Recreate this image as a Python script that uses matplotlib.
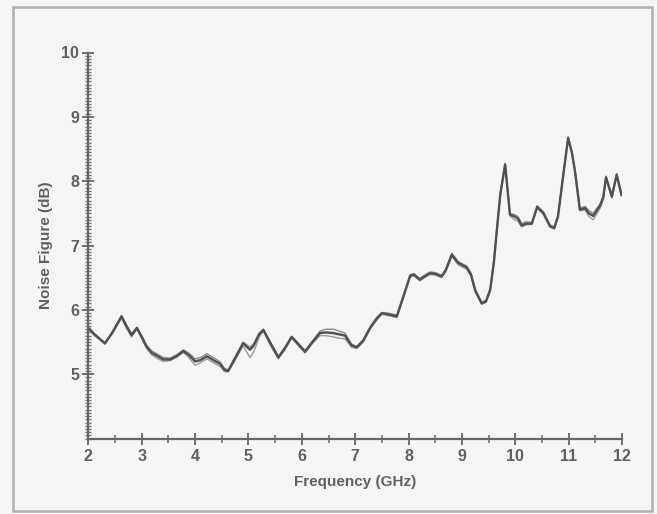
import matplotlib
matplotlib.use("Agg")
import matplotlib.pyplot as plt
from matplotlib.patches import Rectangle
from matplotlib.ticker import MultipleLocator

# main trace
freq = [2.00, 2.10, 2.31, 2.45, 2.62, 2.72, 2.81, 2.91, 3.00, 3.09, 3.19, 3.30,
        3.40, 3.53, 3.65, 3.78, 3.88, 4.00, 4.10, 4.22, 4.34, 4.47, 4.55, 4.62,
        4.75, 4.90, 5.03, 5.10, 5.20, 5.28, 5.40, 5.56, 5.68, 5.81, 5.95, 6.06,
        6.20, 6.34, 6.45, 6.59, 6.70, 6.81, 6.93, 7.03, 7.15, 7.28, 7.40, 7.50,
        7.62, 7.78, 7.90, 8.03, 8.10, 8.21, 8.30, 8.40, 8.50, 8.62, 8.70, 8.81,
        8.93, 9.09, 9.17, 9.25, 9.37, 9.45, 9.53, 9.60, 9.65, 9.72, 9.81, 9.90,
        9.99, 10.05, 10.12, 10.20, 10.31, 10.41, 10.53, 10.65, 10.73, 10.80,
        10.90, 10.99, 11.06, 11.12, 11.21, 11.31, 11.38, 11.46, 11.59, 11.65,
        11.70, 11.81, 11.90, 11.99]
nf = [5.72, 5.63, 5.48, 5.65, 5.90, 5.74, 5.61, 5.72, 5.58, 5.43, 5.33, 5.28,
      5.23, 5.23, 5.28, 5.36, 5.30, 5.20, 5.22, 5.28, 5.22, 5.16, 5.07, 5.05,
      5.25, 5.48, 5.38, 5.45, 5.62, 5.69, 5.50, 5.26, 5.40, 5.58, 5.45, 5.35,
      5.50, 5.64, 5.65, 5.64, 5.62, 5.60, 5.45, 5.42, 5.52, 5.72, 5.86, 5.95,
      5.93, 5.90, 6.20, 6.53, 6.55, 6.47, 6.52, 6.57, 6.56, 6.52, 6.62, 6.86,
      6.73, 6.66, 6.55, 6.30, 6.10, 6.13, 6.31, 6.75, 7.20, 7.80, 8.26, 7.48,
      7.45, 7.42, 7.31, 7.34, 7.34, 7.60, 7.50, 7.30, 7.27, 7.45, 8.10, 8.67,
      8.45, 8.15, 7.56, 7.58, 7.50, 7.46, 7.62, 7.75, 8.06, 7.76, 8.10, 7.79]

# two fainter repeat sweeps, same frequency points
nf_b = [5.70, 5.61, 5.47, 5.63, 5.87, 5.70, 5.58, 5.70, 5.55, 5.40, 5.30, 5.24,
        5.20, 5.21, 5.26, 5.34, 5.26, 5.14, 5.18, 5.24, 5.18, 5.12, 5.04, 5.04,
        5.22, 5.44, 5.26, 5.35, 5.58, 5.67, 5.46, 5.24, 5.38, 5.56, 5.43, 5.33,
        5.48, 5.60, 5.60, 5.58, 5.56, 5.55, 5.42, 5.40, 5.50, 5.70, 5.84, 5.93,
        5.91, 5.88, 6.18, 6.51, 6.53, 6.45, 6.50, 6.55, 6.54, 6.50, 6.60, 6.83,
        6.70, 6.63, 6.52, 6.28, 6.09, 6.12, 6.30, 6.74, 7.18, 7.78, 8.24, 7.46,
        7.40, 7.38, 7.29, 7.32, 7.33, 7.58, 7.48, 7.29, 7.26, 7.44, 8.08, 8.65,
        8.43, 8.13, 7.54, 7.55, 7.45, 7.40, 7.58, 7.72, 8.04, 7.74, 8.08, 7.77]
nf_c = [5.73, 5.64, 5.49, 5.66, 5.91, 5.75, 5.63, 5.73, 5.60, 5.45, 5.36, 5.31,
        5.26, 5.25, 5.30, 5.38, 5.33, 5.24, 5.26, 5.32, 5.26, 5.19, 5.09, 5.07,
        5.27, 5.50, 5.42, 5.48, 5.64, 5.70, 5.52, 5.28, 5.42, 5.59, 5.47, 5.37,
        5.52, 5.67, 5.70, 5.70, 5.67, 5.64, 5.47, 5.43, 5.54, 5.74, 5.88, 5.96,
        5.95, 5.92, 6.22, 6.55, 6.56, 6.49, 6.54, 6.59, 6.58, 6.54, 6.64, 6.88,
        6.75, 6.68, 6.57, 6.32, 6.12, 6.15, 6.33, 6.77, 7.22, 7.82, 8.28, 7.50,
        7.48, 7.45, 7.34, 7.37, 7.36, 7.62, 7.52, 7.32, 7.29, 7.47, 8.12, 8.69,
        8.47, 8.17, 7.58, 7.61, 7.54, 7.50, 7.65, 7.78, 8.08, 7.79, 8.12, 7.81]

W, H = 657, 514
fig = plt.figure(figsize=(W / 100, H / 100), dpi=100)
fig.patch.set_facecolor('#f5f5f3')
plt.rcParams['font.family'] = ['Liberation Sans', 'DejaVu Sans']

# grey frame round the figure
fig.patches.append(Rectangle((13 / W, 1 - 511 / H), (652 - 13) / W, (511 - 7) / H,
                             transform=fig.transFigure, fill=False,
                             edgecolor='#b0b0b0', linewidth=1.8))

ax = fig.add_axes([88.4 / W, 1 - 438.6 / H, (622 - 88.4) / W, (438.6 - 52.5) / H])
ax.set_facecolor('none')

ax.plot(freq, nf_b, color='#9a9a9a', linewidth=1.0)
ax.plot(freq, nf_c, color='#8a8a8a', linewidth=1.0)
ax.plot(freq, nf, color='#505050', linewidth=1.7)

ax.set_xlim(2, 12)
ax.set_ylim(4, 10)
ax.xaxis.set_major_locator(MultipleLocator(1))
ax.xaxis.set_minor_locator(MultipleLocator(0.5))
ax.yaxis.set_minor_locator(MultipleLocator(0.05))
ax.set_yticks([5, 6, 7, 8, 9, 10])

for s in ['top', 'right']:
    ax.spines[s].set_visible(False)
for s in ['left', 'bottom']:
    ax.spines[s].set_color('#666666')
    ax.spines[s].set_linewidth(1.6)

ax.tick_params(axis='both', which='major', direction='inout', length=9, width=1.3,
               colors='#666666', labelsize=11.5, labelcolor='#606060')
ax.tick_params(axis='x', which='minor', direction='inout', length=6, width=1.1,
               colors='#666666')
ax.tick_params(axis='y', which='minor', direction='inout', length=5, width=1.0,
               colors='#777777')
ax.tick_params(axis='x', which='major', pad=3)
ax.tick_params(axis='y', which='major', pad=2)
for lab in ax.get_xticklabels() + ax.get_yticklabels():
    lab.set_fontweight('bold')

ax.set_xlabel('Frequency (GHz)', fontsize=11, color='#606060',
              fontweight='bold', labelpad=8)
ax.set_ylabel('Noise Figure (dB)', fontsize=11, color='#606060',
              fontweight='bold', labelpad=6)

fig.savefig('out.png', dpi=100, facecolor=fig.get_facecolor())
